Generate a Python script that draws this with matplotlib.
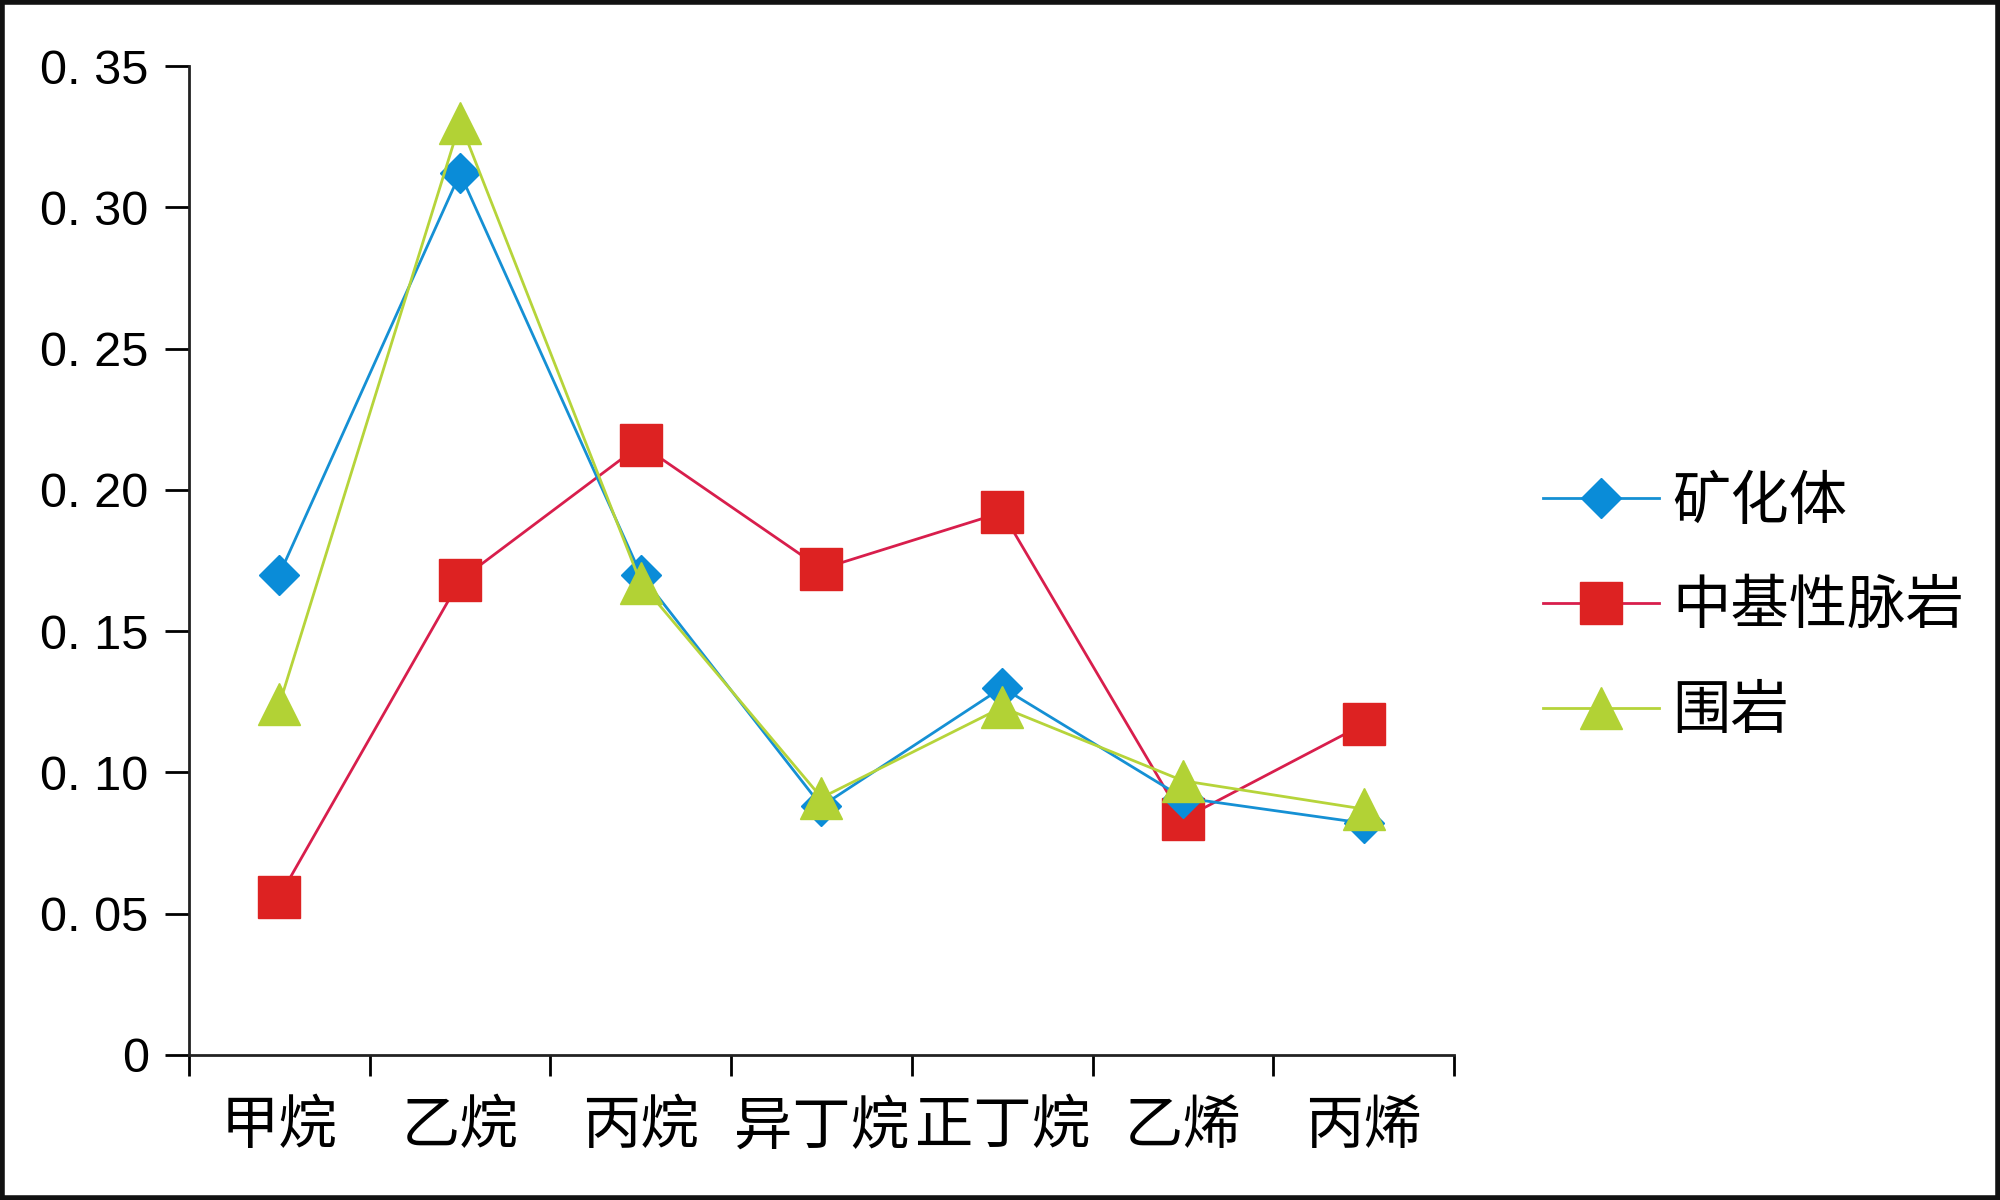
import matplotlib.pyplot as plt
from matplotlib.patches import Rectangle

plt.rcParams['font.family'] = ['Noto Sans CJK SC', 'DejaVu Sans']

# 数据
categories = ["甲烷", "乙烷", "丙烷", "异丁烷", "正丁烷", "乙烯", "丙烯"]
kuanghuati = [0.170, 0.312, 0.170, 0.088, 0.130, 0.091, 0.082]
maiyan = [0.056, 0.168, 0.216, 0.172, 0.192, 0.0835, 0.117]
weiyan = [0.124, 0.330, 0.167, 0.091, 0.123, 0.097, 0.087]
yticks = [0, 0.05, 0.10, 0.15, 0.20, 0.25, 0.30, 0.35]
ytick_labels = ["0", "0. 05", "0. 10", "0. 15", "0. 20", "0. 25", "0. 30", "0. 35"]

fig = plt.figure(figsize=(20, 12), dpi=100)
ax = fig.add_axes([0.0945, 0.121, 0.6325, 0.824])

x = [i + 0.5 for i in range(len(categories))]
ax.plot(x, kuanghuati, color="#1590d4", lw=2, marker="D", ms=20,
        mfc="#0a8cd8", mec="#0a8cd8", label="矿化体", zorder=3)
ax.plot(x, maiyan, color="#d81e4c", lw=2, marker="s", ms=30,
        mfc="#dd2222", mec="#dd2222", label="中基性脉岩", zorder=2)
ax.plot(x, weiyan, color="#b6d43a", lw=2, marker="^", ms=30,
        mfc="#b2d235", mec="#b2d235", label="围岩", zorder=4)

ax.set_xlim(0, len(categories))
ax.set_ylim(0, 0.35)
ax.set_xticks(range(len(categories) + 1))
ax.set_xticklabels([])
ax.set_xticks(x, minor=True)
ax.set_xticklabels(categories, minor=True, fontsize=42)
ax.tick_params(axis="x", which="minor", length=0, pad=30)
ax.tick_params(axis="x", which="major", length=15, width=2, direction="out")
ax.set_yticks(yticks)
ax.set_yticklabels(ytick_labels, fontsize=35, family=["Liberation Sans", "DejaVu Sans"])
ax.tick_params(axis="y", length=17, width=2, direction="out", pad=12)

for s in ["top", "right"]:
    ax.spines[s].set_visible(False)
for s in ["left", "bottom"]:
    ax.spines[s].set_linewidth(2)
    ax.spines[s].set_color("#222222")

leg = ax.legend(loc="center left", bbox_to_anchor=(1.07, 0.453), frameon=False,
                fontsize=42, handlelength=2.0, labelspacing=0.75, handletextpad=0.22,
                borderpad=0, borderaxespad=0, markerscale=1.0)

# 外边框
fig.patches.append(Rectangle((0.001, 0.002), 0.998, 0.996, transform=fig.transFigure,
                             fill=False, lw=4, edgecolor="#111111"))

fig.savefig("out.png", dpi=100)
